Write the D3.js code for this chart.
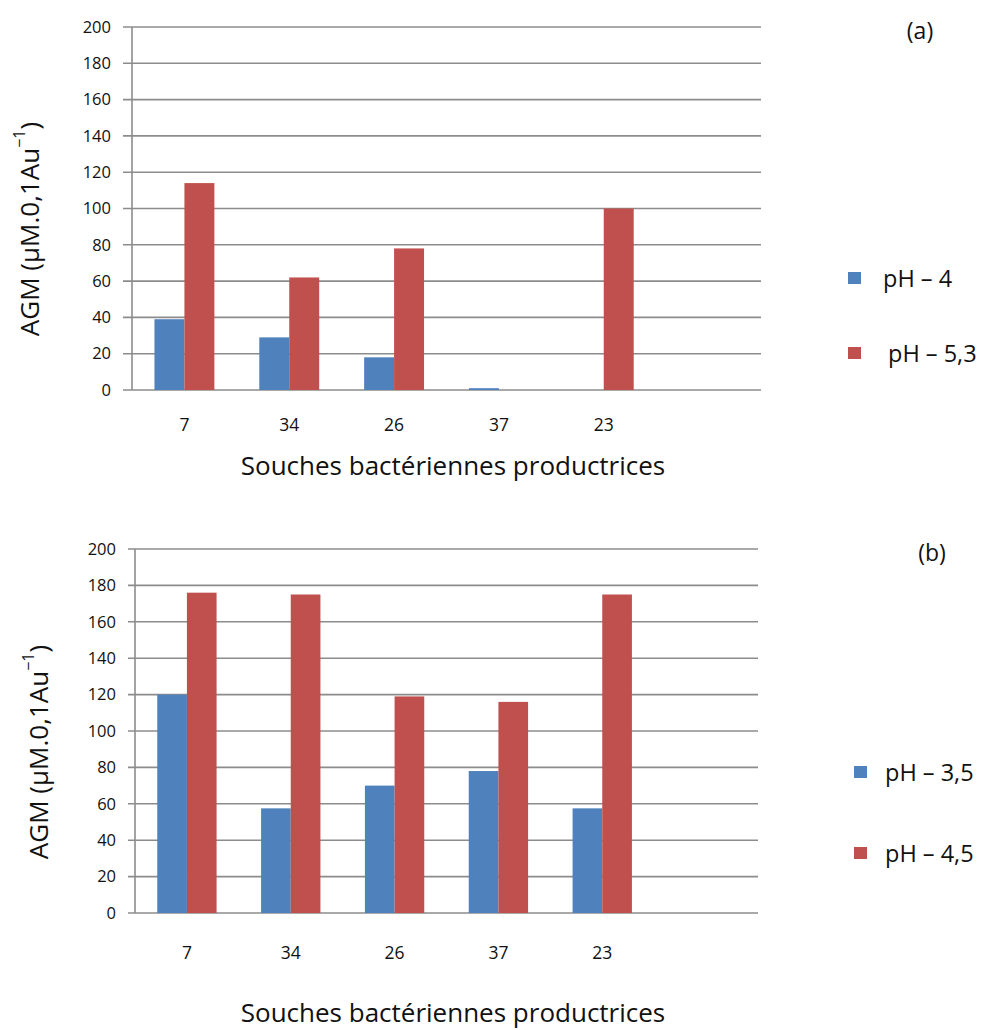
<!DOCTYPE html>
<html>
<head>
<meta charset="utf-8">
<script src="https://cdn.jsdelivr.net/npm/d3@7"></script>
<style>
  html, body { margin: 0; padding: 0; background: #fff; }
  svg { display: block; }
  text { font-family: "Open Sans", "Noto Sans", sans-serif; fill: #111; }
</style>
</head>
<body>
<svg id="chart" width="990" height="1030"></svg>
<script>
// ---- data ----
const categories = ["7", "34", "26", "37", "23", ""];   // last slot is empty in the source
const yTicks = [0, 20, 40, 60, 80, 100, 120, 140, 160, 180, 200];
const xTitle = "Souches bactériennes productrices";

// panel (a)
const seriesA_names = ["pH – 4", "pH – 5,3"];
const seriesA_pH4   = [39, 29, 18, 1, 0];
const seriesA_pH53  = [114, 62, 78, 0, 100];

// panel (b)
const seriesB_names = ["pH – 3,5", "pH – 4,5"];
const seriesB_pH35  = [120, 57.5, 70, 78, 57.5];
const seriesB_pH45  = [176, 175, 119, 116, 175];

const colors = ["#4f81bd", "#c0504d"];

const svg = d3.select("#chart");

function drawPanel(cfg) {
  const g = svg.append("g");
  const x = d3.scaleBand().domain(categories.map((c, i) => i)).range([cfg.left, cfg.right]).paddingInner(0).paddingOuter(0);
  const xs = d3.scaleBand().domain([0, 1]).range([0, x.bandwidth()]).paddingInner(0).paddingOuter(0.75);
  const y = d3.scaleLinear().domain([0, 200]).range([cfg.bottom, cfg.top]);

  // gridlines
  g.append("g").selectAll("line").data(yTicks).join("line")
    .attr("x1", cfg.left - cfg.tick).attr("x2", cfg.right)
    .attr("y1", d => y(d)).attr("y2", d => y(d))
    .attr("stroke", "#8c8c8c").attr("stroke-width", 1.6);

  // vertical axis line
  g.append("line")
    .attr("x1", cfg.left).attr("x2", cfg.left)
    .attr("y1", y(200)).attr("y2", y(0))
    .attr("stroke", "#8c8c8c").attr("stroke-width", 1.6);

  // y tick labels
  const ya = g.append("g").attr("transform", `translate(${cfg.left},0)`)
    .call(d3.axisLeft(y).tickValues(yTicks).tickSize(0).tickPadding(cfg.left - cfg.labelRight));
  ya.select(".domain").remove();
  ya.selectAll("text").attr("font-size", 16.5).attr("font-family", "Open Sans").attr("fill", "#111");

  // bars
  const series = [cfg.s1, cfg.s2];
  series.forEach((vals, si) => {
    g.append("g").selectAll("rect").data(vals.map((v, i) => ({ v, i }))).join("rect")
      .attr("x", d => x(d.i) + xs(si))
      .attr("width", xs.bandwidth())
      .attr("y", d => y(d.v))
      .attr("height", d => y(0) - y(d.v))
      .attr("fill", colors[si]);
  });

  // x labels
  const xa = g.append("g").attr("transform", `translate(0,${cfg.bottom})`)
    .call(d3.axisBottom(x).tickSize(0).tickPadding(cfg.xlabY - cfg.bottom - 6).tickFormat(i => categories[i]));
  xa.select(".domain").remove();
  xa.selectAll("text").attr("font-size", 17.5).attr("font-family", "Open Sans").attr("fill", "#111");

  // x title (alphabetic baseline)
  g.append("text").attr("x", cfg.xTitleX).attr("y", cfg.xTitleBase)
    .attr("text-anchor", "middle")
    .attr("font-size", 26).text(xTitle);

  // y title
  const yt = g.append("text")
    .attr("transform", `translate(${cfg.yTitleX},${cfg.yTitleY}) rotate(-90)`)
    .attr("text-anchor", "middle").attr("dominant-baseline", "central")
    .attr("font-size", 26);
  yt.append("tspan").text("AGM (µM.0,1Au");
  yt.append("tspan").attr("font-size", 16).attr("dy", -10).text("−1");
  yt.append("tspan").attr("dy", 10).text(")");

  // panel label
  g.append("text").attr("x", cfg.labelX).attr("y", cfg.labelY)
    .attr("text-anchor", "middle").attr("dominant-baseline", "central")
    .attr("font-size", 23).text(cfg.label);

  // legend
  cfg.names.forEach((n, i) => {
    const ly = cfg.legY[i];
    g.append("rect").attr("x", cfg.legX).attr("y", ly - 6).attr("width", 13).attr("height", 12).attr("fill", colors[i]);
    g.append("text").attr("x", cfg.legTextX[i]).attr("y", ly)
      .attr("dominant-baseline", "central").attr("font-size", 23.5).text(n);
  });
}

drawPanel({
  left: 132, right: 761, top: 27, bottom: 390, tick: 9, labelRight: 111,
  s1: seriesA_pH4, s2: seriesA_pH53, names: seriesA_names,
  xlabY: 425, xTitleX: 453, xTitleBase: 475,
  yTitleX: 29, yTitleY: 229,
  label: "(a)", labelX: 920, labelY: 30,
  legX: 848, legY: [278, 353], legTextX: [883, 888]
});

drawPanel({
  left: 135, right: 758, top: 549, bottom: 913, tick: 7, labelRight: 116,
  s1: seriesB_pH35, s2: seriesB_pH45, names: seriesB_names,
  xlabY: 953, xTitleX: 453, xTitleBase: 1022,
  yTitleX: 38, yTitleY: 752,
  label: "(b)", labelX: 932, labelY: 552,
  legX: 854, legY: [772, 853], legTextX: [885, 885]
});
</script>
</body>
</html>
